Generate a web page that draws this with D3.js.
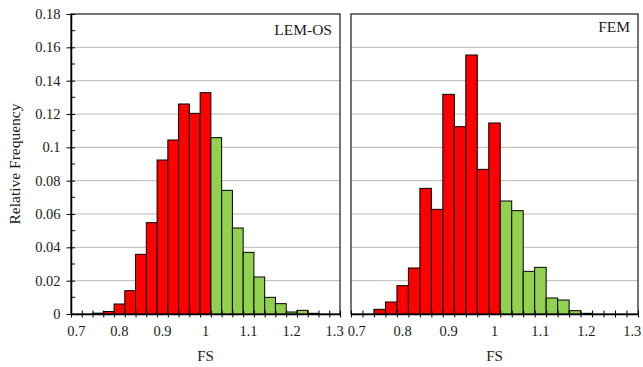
<!DOCTYPE html>
<html>
<head>
<meta charset="utf-8">
<script src="https://cdn.jsdelivr.net/npm/d3@7"></script>
<style>
    body { margin: 0; background: #fff; }
</style>
</head>
<body>
<div class="chart"></div>
<script>
// FS bins (category centres), width 0.025
const bins = ["0.7", "0.725", "0.75", "0.775", "0.8", "0.825", "0.85", "0.875", "0.9", "0.925",
    "0.95", "0.975", "1", "1.025", "1.05", "1.075", "1.1", "1.125", "1.15", "1.175",
    "1.2", "1.225", "1.25", "1.275", "1.3"];

// Relative frequency
const lemValues = [0, 0, 0.0005, 0.0015, 0.006, 0.014, 0.0358, 0.0548, 0.0924, 0.1044,
    0.126, 0.1204, 0.1328, 0.1058, 0.0742, 0.0516, 0.037, 0.0222, 0.010, 0.0062,
    0.0012, 0.0022, 0.0004, 0, 0];

const femValues = [0, 0, 0.0028, 0.0072, 0.017, 0.0276, 0.0754, 0.0628, 0.1318, 0.1124,
    0.1554, 0.0868, 0.1146, 0.0678, 0.062, 0.0256, 0.028, 0.0096, 0.0084, 0.002,
    0.0004, 0, 0, 0, 0];

const xTickLabels = ["0.7", "0.8", "0.9", "1", "1.1", "1.2", "1.3"];
const yTicks = [0, 0.02, 0.04, 0.06, 0.08, 0.1, 0.12, 0.14, 0.16, 0.18];
const yMinorTicks = [0.01, 0.03, 0.05, 0.07, 0.09, 0.11, 0.13, 0.15, 0.17];

const panelNames = ["LEM-OS", "FEM"];

const colors = { fail: "#ff0000", safe: "#92d050" };

const serif = "'Liberation Serif', 'Times New Roman', 'DejaVu Serif', serif";

const width = 643;
const height = 367;

const svg = d3.select(".chart")
    .append("svg")
        .attr("width", width)
        .attr("height", height)
        .style("font-family", serif);

// Draws one histogram panel
function drawPanel(values, name, box, showYAxis) {
    const boundedWidth = box.right - box.left;
    const boundedHeight = box.bottom - box.top;

    const bounds = svg.append("g")
        .attr("transform", `translate(${box.left},${box.top})`);

    const xScale = d3.scaleBand()
        .domain(bins)
        .range([0, boundedWidth])
        .padding(0);

    // index scale for the ticks between categories
    const edgeScale = d3.scaleLinear()
        .domain([0, bins.length])
        .range([0, boundedWidth]);

    const yScale = d3.scaleLinear()
        .domain([0, 0.18])
        .range([boundedHeight, 0]);

    // gridlines
    bounds.append("g")
        .selectAll("line")
        .data(yTicks.slice(1, -1))
        .join("line")
            .attr("x1", 0)
            .attr("x2", boundedWidth)
            .attr("y1", d => yScale(d))
            .attr("y2", d => yScale(d))
            .attr("stroke", "#b8b8b8")
            .attr("stroke-width", 1);

    // frame
    bounds.append("rect")
        .attr("width", boundedWidth)
        .attr("height", boundedHeight)
        .attr("fill", "none")
        .attr("stroke", "#2a2a2a")
        .attr("stroke-width", 1.3);

    // bars
    const data = bins.map((b, i) => ({ bin: b, value: values[i] }));
    bounds.append("g")
        .selectAll("rect")
        .data(data.filter(d => d.value > 0))
        .join("rect")
            .attr("x", d => xScale(d.bin))
            .attr("width", xScale.bandwidth())
            .attr("y", d => yScale(d.value))
            .attr("height", d => yScale(0) - yScale(d.value))
            .attr("fill", d => +d.bin <= 1 ? colors.fail : colors.safe)
            .attr("stroke", "#000")
            .attr("stroke-width", 1);

    // x ticks crossing the axis
    const xTickAxis = d3.axisBottom(edgeScale)
        .tickValues(d3.range(bins.length + 1))
        .tickFormat("")
        .tickSizeOuter(0);
    const xTicks = bounds.append("g")
        .attr("transform", `translate(0,${boundedHeight})`)
        .call(xTickAxis);
    xTicks.selectAll(".tick line")
        .attr("y1", -3.5)
        .attr("y2", 3.5)
        .attr("stroke", "#000");
    xTicks.select(".domain")
        .attr("stroke", "#000")
        .attr("stroke-width", 1.5);

    // x labels on every 4th category
    const xLabelAxis = d3.axisBottom(xScale)
        .tickValues(xTickLabels)
        .tickSize(0)
        .tickPadding(12);
    const xLabels = bounds.append("g")
        .attr("transform", `translate(0,${boundedHeight})`)
        .call(xLabelAxis)
        .attr("font-family", serif)
        .attr("font-size", 14.5);
    xLabels.select(".domain").remove();
    xLabels.selectAll("text")
        .attr("fill", "#1a1a1a");

    // axis title
    bounds.append("text")
        .attr("x", boundedWidth / 2)
        .attr("y", boundedHeight + 47)
        .attr("text-anchor", "middle")
        .attr("font-size", 15)
        .attr("fill", "#1a1a1a")
        .text("FS");

    // panel name
    bounds.append("text")
        .attr("x", boundedWidth - 8)
        .attr("y", box.nameY)
        .attr("text-anchor", "end")
        .attr("font-size", 15.5)
        .attr("fill", "#1a1a1a")
        .text(name);

    if (showYAxis) {
        const yAxisGenerator = d3.axisLeft(yScale)
            .tickValues(yTicks)
            .tickFormat(d => d3.format("~g")(+d.toFixed(2)))
            .tickSizeInner(4.5)
            .tickSizeOuter(0)
            .tickPadding(6);
        const yAxis = bounds.append("g")
            .call(yAxisGenerator)
            .attr("font-family", serif)
            .attr("font-size", 14.5);
        yAxis.selectAll(".tick line")
            .attr("x2", 4)
            .attr("x1", -4.5)
            .attr("stroke", "#000");
        yAxis.select(".domain")
            .attr("stroke", "#000")
            .attr("stroke-width", 1.5);
        yAxis.selectAll("text")
            .attr("fill", "#1a1a1a");

        // minor ticks inside
        bounds.append("g")
            .selectAll("line")
            .data(yMinorTicks)
            .join("line")
                .attr("x1", 0)
                .attr("x2", 4)
                .attr("y1", d => yScale(d))
                .attr("y2", d => yScale(d))
                .attr("stroke", "#000");

        bounds.append("text")
            .attr("transform", `translate(${-box.left + 20},${boundedHeight / 2}) rotate(-90)`)
            .attr("text-anchor", "middle")
            .attr("font-size", 15.5)
            .attr("fill", "#1a1a1a")
            .text("Relative Frequency");
    }
}

drawPanel(lemValues, panelNames[0], { left: 71, right: 340, top: 14, bottom: 314, nameY: 21 }, true);
drawPanel(femValues, panelNames[1], { left: 351, right: 638, top: 14, bottom: 314, nameY: 18 }, false);
</script>
</body>
</html>
